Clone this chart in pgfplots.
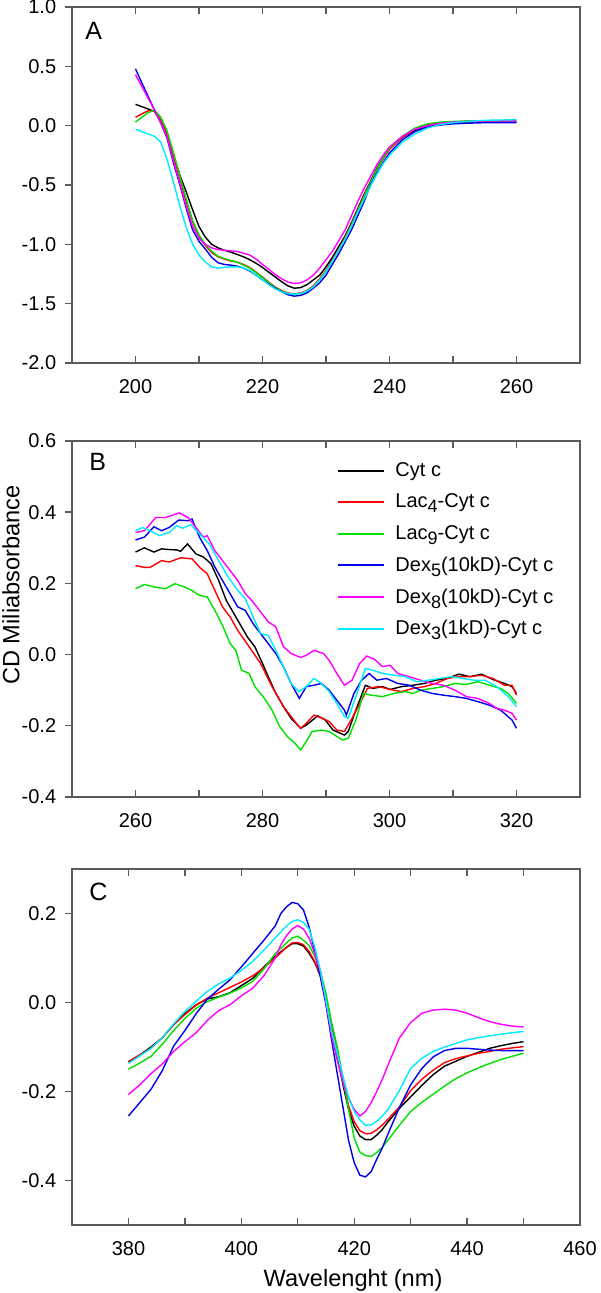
\documentclass[border=0pt]{standalone}
\usepackage{fontspec}
\setmainfont{Liberation Sans}
\usepackage{pgfplots}
\pgfplotsset{compat=1.18}
\definecolor{cR}{RGB}{255,0,0}
\definecolor{cG}{RGB}{0,225,0}
\definecolor{cB}{RGB}{0,0,235}
\definecolor{cM}{RGB}{255,0,255}
\definecolor{cC}{RGB}{0,235,255}
\definecolor{frame}{RGB}{90,90,90}
\pgfplotsset{
  panel/.style={
    width=254pt, height=178pt, scale only axis,
    anchor=south west,
    axis line style={frame, line width=0.7pt},
    tick style={frame, line width=0.7pt},
    tick align=inside,
    major tick length=3.5pt, minor tick length=3.5pt,
    xtick pos=both, ytick pos=left,
    ytick style={xshift=-3.5pt},
    ticklabel style={font=\fontsize{10}{12}\selectfont, text=black},
    xticklabel style={yshift=-4.7pt},
    yticklabel style={xshift=-4.4pt},
    every axis plot/.append style={line width=0.7pt, no markers},
  },
}
\newcommand{\sub}[1]{\raisebox{-2.5pt}{\fontsize{9}{9}\selectfont #1}}
\begin{document}
\begin{tikzpicture}
% ---------------- Panel A ----------------
\begin{axis}[panel, at={(36pt,465pt)},
  xmin=190, xmax=270, ymin=-2, ymax=1,
  xtick={200,220,240,260}, xticklabels={200,220,240,260}, minor xtick={210,230,250},
  ytick={-2,-1.5,-1,-0.5,0,0.5,1},
  yticklabels={-2.0,-1.5,-1.0,-0.5,0.0,0.5,1.0}]
\addplot[black] coordinates {(200,0.18)(201,0.16)(202,0.14)(203,0.12)(204,0.04)(205,-0.08)(206,-0.25)(207,-0.42)(208,-0.56)(209,-0.71)(210,-0.85)(211,-0.94)(212,-1.00)(213,-1.03)(214,-1.05)(215,-1.066)(216,-1.085)(217,-1.105)(218,-1.13)(219,-1.16)(220,-1.195)(221,-1.235)(222,-1.275)(223,-1.315)(224,-1.35)(225,-1.37)(226,-1.365)(227,-1.34)(228,-1.30)(229,-1.26)(230,-1.19)(231,-1.11)(232,-1.02)(233,-0.93)(234,-0.82)(235,-0.70)(236,-0.58)(237,-0.47)(238,-0.36)(239,-0.27)(240,-0.19)(242,-0.10)(244,-0.04)(246,0.0)(248,0.015)(250,0.025)(252,0.03)(255,0.035)(260,0.035)};
\addplot[cR] coordinates {(200,0.07)(201,0.10)(202,0.125)(203,0.125)(204,0.04)(205,-0.08)(206,-0.26)(207,-0.45)(208,-0.64)(209,-0.81)(210,-0.93)(211,-1.01)(212,-1.07)(213,-1.105)(214,-1.125)(215,-1.14)(216,-1.15)(217,-1.17)(218,-1.195)(219,-1.235)(220,-1.275)(221,-1.32)(222,-1.36)(223,-1.39)(224,-1.41)(225,-1.418)(226,-1.41)(227,-1.39)(228,-1.35)(229,-1.29)(230,-1.22)(231,-1.13)(232,-1.04)(233,-0.94)(234,-0.83)(235,-0.71)(236,-0.59)(237,-0.48)(238,-0.37)(239,-0.28)(240,-0.20)(242,-0.10)(244,-0.03)(246,0.01)(248,0.025)(250,0.03)(252,0.035)(255,0.035)(260,0.03)};
\addplot[cG] coordinates {(200,0.03)(201,0.07)(202,0.11)(203,0.13)(204,0.07)(205,-0.05)(206,-0.23)(207,-0.43)(208,-0.62)(209,-0.80)(210,-0.92)(211,-1.00)(212,-1.06)(213,-1.10)(214,-1.12)(215,-1.135)(216,-1.15)(217,-1.175)(218,-1.20)(219,-1.24)(220,-1.28)(221,-1.325)(222,-1.365)(223,-1.395)(224,-1.415)(225,-1.42)(226,-1.415)(227,-1.395)(228,-1.36)(229,-1.30)(230,-1.23)(231,-1.14)(232,-1.05)(233,-0.95)(234,-0.84)(235,-0.72)(236,-0.60)(237,-0.48)(238,-0.37)(239,-0.27)(240,-0.19)(242,-0.09)(244,-0.02)(246,0.015)(248,0.03)(250,0.035)(252,0.04)(255,0.04)(260,0.04)};
\addplot[cB] coordinates {(200,0.479)(201,0.36)(202,0.245)(203,0.13)(204,0.02)(205,-0.11)(206,-0.32)(207,-0.50)(208,-0.70)(209,-0.88)(210,-0.975)(211,-1.04)(212,-1.11)(213,-1.155)(214,-1.17)(215,-1.175)(216,-1.184)(217,-1.20)(218,-1.225)(219,-1.26)(220,-1.30)(221,-1.335)(222,-1.37)(223,-1.40)(224,-1.425)(225,-1.437)(226,-1.43)(227,-1.41)(228,-1.37)(229,-1.325)(230,-1.26)(231,-1.17)(232,-1.08)(233,-0.98)(234,-0.88)(235,-0.76)(236,-0.64)(237,-0.50)(238,-0.40)(239,-0.31)(240,-0.23)(242,-0.12)(244,-0.05)(246,-0.01)(248,0.005)(250,0.015)(252,0.02)(255,0.025)(260,0.025)};
\addplot[cM] coordinates {(200,0.43)(201,0.33)(202,0.23)(203,0.13)(204,0.02)(205,-0.10)(206,-0.30)(207,-0.49)(208,-0.68)(209,-0.85)(210,-0.95)(211,-1.00)(212,-1.03)(213,-1.045)(214,-1.05)(215,-1.055)(216,-1.06)(217,-1.075)(218,-1.09)(219,-1.125)(220,-1.17)(221,-1.21)(222,-1.255)(223,-1.29)(224,-1.318)(225,-1.33)(226,-1.325)(227,-1.30)(228,-1.26)(229,-1.20)(230,-1.13)(231,-1.06)(232,-0.97)(233,-0.88)(234,-0.76)(235,-0.64)(236,-0.53)(237,-0.43)(238,-0.33)(239,-0.25)(240,-0.18)(242,-0.09)(244,-0.03)(246,0.0)(248,0.02)(250,0.03)(252,0.035)(255,0.04)(260,0.04)};
\addplot[cC] coordinates {(200,-0.03)(201,-0.05)(202,-0.07)(203,-0.09)(204,-0.14)(205,-0.29)(206,-0.48)(207,-0.68)(208,-0.86)(209,-1.00)(210,-1.09)(211,-1.15)(212,-1.19)(213,-1.20)(214,-1.195)(215,-1.19)(216,-1.19)(217,-1.20)(218,-1.22)(219,-1.26)(220,-1.30)(221,-1.34)(222,-1.375)(223,-1.40)(224,-1.415)(225,-1.42)(226,-1.415)(227,-1.395)(228,-1.36)(229,-1.30)(230,-1.23)(231,-1.14)(232,-1.05)(233,-0.96)(234,-0.85)(235,-0.73)(236,-0.62)(237,-0.51)(238,-0.41)(239,-0.32)(240,-0.25)(242,-0.14)(244,-0.07)(246,-0.02)(248,0.01)(250,0.025)(252,0.035)(255,0.045)(260,0.05)};
\node[anchor=west, inner sep=0pt, font=\fontsize{12.5}{14}\selectfont] at (rel axis cs:0.0256,0.933) {A};
\end{axis}
% ---------------- Panel B ----------------
\begin{axis}[panel, at={(36pt,248pt)},
  xmin=250, xmax=330, ymin=-0.4, ymax=0.6,
  xtick={260,280,300,320}, xticklabels={260,280,300,320}, minor xtick={270,290,310},
  ytick={-0.4,-0.2,0,0.2,0.4,0.6},
  yticklabels={-0.4,-0.2,0.0,0.2,0.4,0.6},
  legend cell align=left,
  legend image code/.code={\draw[#1, line width=1pt] (0pt,0pt) -- (23pt,0pt);},
  legend style={at={(rel axis cs:0.51,0.963)}, anchor=north west, draw=none, fill=none,
    font=\fontsize{10}{16}\selectfont, row sep=3.2pt, column sep=3pt}]
\addplot[black] coordinates {(260,0.288)(261.4,0.300)(262.9,0.288)(264.1,0.297)(265.3,0.295)(266.5,0.294)(267.1,0.290)(268.2,0.311)(269.5,0.283)(270.7,0.274)(271.9,0.255)(273.1,0.208)(274.3,0.152)(275.5,0.115)(276.7,0.078)(277.6,0.050)(278.8,0.022)(280,-0.025)(280.9,-0.062)(282.1,-0.109)(283.3,-0.146)(284.5,-0.179)(286,-0.207)(286.9,-0.198)(288.7,-0.172)(289.9,-0.184)(291.1,-0.212)(292.9,-0.226)(293.5,-0.216)(294.7,-0.156)(296.2,-0.086)(297.4,-0.095)(298.9,-0.090)(300.1,-0.098)(301.9,-0.090)(303.7,-0.086)(305.5,-0.081)(307.3,-0.072)(309.1,-0.067)(310.9,-0.055)(312.7,-0.062)(314.5,-0.055)(316.3,-0.070)(318.1,-0.081)(319.3,-0.090)(320,-0.109)};
\addlegendentry{Cyt c\vphantom{\sub{4}}}
\addplot[cR] coordinates {(260,0.250)(261.4,0.245)(262.3,0.245)(264.1,0.264)(265.3,0.260)(267.1,0.272)(268.9,0.269)(270.1,0.245)(271.3,0.227)(272.5,0.180)(273.7,0.134)(274.9,0.106)(276.1,0.068)(277.9,0.022)(279.7,-0.025)(281.5,-0.090)(283.3,-0.146)(285.1,-0.188)(286,-0.207)(286.9,-0.193)(288.1,-0.170)(289.6,-0.180)(290.5,-0.188)(291.7,-0.212)(292.9,-0.216)(294.1,-0.179)(295.9,-0.118)(296.5,-0.095)(298.3,-0.090)(300.1,-0.098)(301.9,-0.104)(303.7,-0.095)(305.5,-0.090)(307.3,-0.081)(309.1,-0.067)(310.9,-0.062)(312.7,-0.062)(314.5,-0.058)(316.3,-0.067)(318.1,-0.086)(319.3,-0.086)(320,-0.114)};
\addlegendentry{Lac\sub{4}-Cyt c}
\addplot[cG] coordinates {(260,0.185)(261.4,0.197)(262.9,0.190)(264.7,0.185)(266.2,0.199)(267.7,0.190)(268.9,0.180)(270.1,0.166)(271.3,0.162)(272.5,0.124)(273.7,0.082)(274.9,0.031)(275.8,0.012)(276.7,-0.044)(277.9,-0.053)(278.8,-0.090)(280.3,-0.123)(281.5,-0.156)(282.7,-0.202)(283.9,-0.230)(285.1,-0.249)(286,-0.268)(286.9,-0.244)(287.8,-0.216)(289.3,-0.212)(290.5,-0.216)(291.7,-0.230)(292.6,-0.240)(293.5,-0.235)(294.7,-0.184)(295.9,-0.109)(297.1,-0.114)(298.9,-0.118)(300.7,-0.109)(302.5,-0.104)(303.7,-0.109)(304.9,-0.100)(306.7,-0.095)(308.5,-0.090)(310.3,-0.081)(312.1,-0.084)(313.9,-0.076)(315.7,-0.086)(317.5,-0.095)(318.7,-0.109)(320,-0.137)};
\addlegendentry{Lac\sub{9}-Cyt c}
\addplot[cB] coordinates {(260,0.322)(261.4,0.330)(262.9,0.359)(264.1,0.348)(265.3,0.357)(266.8,0.378)(268.3,0.376)(268.9,0.381)(270.1,0.329)(271.3,0.292)(272.5,0.246)(273.7,0.208)(274.9,0.171)(276.1,0.134)(277.3,0.124)(278.5,0.087)(279.7,0.059)(280.9,0.031)(282.1,0.003)(283.3,-0.034)(284.5,-0.081)(285.8,-0.123)(286.9,-0.090)(288.1,-0.086)(289.3,-0.081)(290.5,-0.100)(291.7,-0.128)(292.9,-0.156)(293.2,-0.170)(294.4,-0.109)(295.6,-0.072)(296.8,-0.053)(298,-0.072)(299.5,-0.067)(301.3,-0.081)(303.1,-0.086)(304.9,-0.100)(306.7,-0.109)(308.5,-0.114)(310.3,-0.118)(312.1,-0.123)(313.9,-0.132)(315.7,-0.142)(317.5,-0.156)(319.3,-0.184)(320,-0.207)};
\addlegendentry{Dex\sub{5}(10kD)-Cyt c}
\addplot[cM] coordinates {(260,0.343)(261.4,0.348)(263.2,0.385)(264.7,0.385)(265.6,0.390)(266.9,0.398)(268.3,0.385)(269.5,0.357)(270.7,0.330)(271.3,0.334)(272.5,0.292)(273.7,0.264)(274.9,0.236)(276.1,0.208)(277.3,0.171)(278.5,0.148)(279.7,0.120)(280.9,0.092)(282.1,0.078)(283.3,0.022)(284.5,0.003)(286,-0.008)(286.9,-0.002)(288.1,0.012)(289.6,0.003)(290.5,-0.016)(291.7,-0.053)(292.9,-0.086)(294.1,-0.072)(295.3,-0.025)(296.4,-0.004)(297.7,-0.014)(298.9,-0.034)(300.1,-0.030)(301.3,-0.053)(303.1,-0.062)(304.9,-0.072)(306.7,-0.081)(308.5,-0.086)(310.3,-0.100)(312.1,-0.118)(313.9,-0.123)(315.7,-0.137)(316.9,-0.151)(318.1,-0.156)(319.3,-0.165)(320,-0.184)};
\addlegendentry{Dex\sub{8}(10kD)-Cyt c}
\addplot[cC] coordinates {(260,0.348)(261.1,0.357)(262.3,0.348)(263.8,0.334)(265.3,0.343)(266.5,0.362)(267.4,0.355)(268.7,0.365)(270.1,0.339)(271.6,0.311)(273.1,0.264)(274.6,0.218)(276.1,0.180)(277.3,0.157)(278.5,0.106)(279.7,0.059)(280.9,0.054)(282.1,0.012)(283.3,-0.034)(284.5,-0.081)(285.7,-0.104)(286.9,-0.090)(288.1,-0.067)(289.3,-0.081)(290.5,-0.104)(291.7,-0.137)(292.9,-0.174)(293.5,-0.179)(294.7,-0.118)(296.2,-0.039)(297.4,-0.044)(298.9,-0.053)(300.7,-0.058)(302.5,-0.062)(304.3,-0.076)(306.1,-0.072)(307.9,-0.067)(309.7,-0.062)(311.5,-0.067)(313.3,-0.072)(315.1,-0.072)(316.9,-0.090)(318.7,-0.118)(320,-0.146)};
\addlegendentry{Dex\sub{3}(1kD)-Cyt c}
\node[anchor=west, inner sep=0pt, font=\fontsize{12.5}{14}\selectfont] at (rel axis cs:0.0335,0.941) {B};
\end{axis}
% ---------------- Panel C ----------------
\begin{axis}[panel, at={(36pt,34pt)},
  xmin=370, xmax=460, ymin=-0.5, ymax=0.3,
  xtick={380,400,420,440,460}, xticklabels={380,400,420,440,460}, minor xtick={390,410,430,450},
  ytick={-0.4,-0.2,0,0.2},
  yticklabels={-0.4,-0.2,0.0,0.2}]
\addplot[black] coordinates {(380,-0.133)(382,-0.118)(384,-0.100)(386,-0.079)(388,-0.050)(390,-0.025)(392,-0.005)(394,0.008)(396,0.013)(398,0.022)(400,0.038)(402,0.054)(404,0.080)(406,0.104)(408,0.124)(409,0.132)(410,0.132)(411,0.127)(412,0.111)(413,0.090)(414,0.060)(415,0.005)(416,-0.055)(417,-0.12)(418,-0.185)(419,-0.24)(420,-0.278)(421,-0.300)(422,-0.308)(423,-0.308)(424,-0.298)(425,-0.285)(426,-0.268)(428,-0.238)(430,-0.212)(432,-0.186)(434,-0.162)(436,-0.143)(438,-0.132)(440,-0.121)(442,-0.112)(444,-0.103)(446,-0.097)(448,-0.092)(450,-0.088)};
\addplot[cR] coordinates {(380,-0.133)(382,-0.118)(384,-0.103)(386,-0.079)(388,-0.050)(390,-0.027)(392,-0.006)(394,0.010)(396,0.022)(398,0.034)(400,0.046)(402,0.060)(404,0.078)(406,0.100)(408,0.124)(409,0.134)(410,0.135)(411,0.130)(412,0.115)(413,0.092)(414,0.060)(415,0.005)(416,-0.052)(417,-0.115)(418,-0.178)(419,-0.232)(420,-0.268)(421,-0.288)(422,-0.295)(423,-0.294)(424,-0.286)(425,-0.275)(426,-0.262)(428,-0.235)(430,-0.198)(432,-0.172)(434,-0.152)(436,-0.135)(438,-0.126)(440,-0.120)(442,-0.114)(444,-0.110)(446,-0.105)(448,-0.102)(450,-0.099)};
\addplot[cG] coordinates {(380,-0.150)(382,-0.136)(384,-0.121)(386,-0.094)(388,-0.063)(390,-0.036)(392,-0.013)(394,0.002)(396,0.012)(398,0.021)(400,0.033)(402,0.047)(404,0.075)(406,0.110)(408,0.134)(409,0.145)(410,0.149)(411,0.140)(412,0.128)(413,0.104)(414,0.072)(415,0.020)(416,-0.045)(417,-0.100)(418,-0.170)(419,-0.240)(420,-0.305)(421,-0.336)(422,-0.344)(423,-0.346)(424,-0.337)(425,-0.325)(426,-0.309)(428,-0.276)(430,-0.245)(432,-0.224)(434,-0.206)(436,-0.188)(438,-0.171)(440,-0.158)(442,-0.147)(444,-0.137)(446,-0.128)(448,-0.121)(450,-0.114)};
\addplot[cB] coordinates {(380,-0.255)(382,-0.225)(384,-0.195)(386,-0.153)(388,-0.098)(390,-0.063)(392,-0.025)(394,0.008)(396,0.030)(398,0.051)(400,0.080)(402,0.110)(404,0.140)(406,0.172)(407,0.200)(408,0.215)(409,0.225)(410,0.222)(411,0.208)(412,0.170)(413,0.115)(414,0.058)(415,-0.005)(416,-0.085)(417,-0.160)(418,-0.235)(419,-0.310)(420,-0.360)(421,-0.388)(422,-0.392)(423,-0.380)(424,-0.352)(425,-0.326)(426,-0.295)(428,-0.236)(430,-0.185)(432,-0.148)(434,-0.122)(436,-0.108)(438,-0.103)(440,-0.103)(442,-0.105)(444,-0.107)(446,-0.108)(448,-0.108)(450,-0.108)};
\addplot[cM] coordinates {(380,-0.207)(382,-0.185)(384,-0.160)(386,-0.138)(388,-0.110)(390,-0.088)(392,-0.068)(394,-0.040)(396,-0.018)(398,-0.005)(400,0.015)(402,0.032)(404,0.060)(406,0.100)(407,0.130)(408,0.150)(409,0.165)(410,0.173)(411,0.165)(412,0.145)(413,0.110)(414,0.070)(415,0.000)(416,-0.075)(417,-0.130)(418,-0.180)(419,-0.215)(420,-0.240)(421,-0.255)(422,-0.245)(423,-0.225)(424,-0.200)(425,-0.172)(426,-0.140)(428,-0.080)(430,-0.045)(432,-0.024)(434,-0.017)(436,-0.015)(438,-0.017)(440,-0.024)(442,-0.034)(444,-0.043)(446,-0.049)(448,-0.053)(450,-0.055)};
\addplot[cC] coordinates {(380,-0.137)(382,-0.120)(384,-0.103)(386,-0.079)(388,-0.048)(390,-0.020)(392,0.003)(394,0.025)(396,0.042)(398,0.055)(400,0.072)(402,0.092)(404,0.118)(406,0.145)(408,0.172)(409,0.182)(410,0.186)(411,0.180)(412,0.165)(413,0.125)(414,0.072)(415,0.005)(416,-0.065)(417,-0.115)(418,-0.165)(419,-0.213)(420,-0.245)(421,-0.264)(422,-0.276)(423,-0.275)(424,-0.267)(425,-0.255)(426,-0.240)(428,-0.198)(430,-0.148)(432,-0.125)(434,-0.110)(436,-0.100)(438,-0.092)(440,-0.084)(442,-0.079)(444,-0.075)(446,-0.071)(448,-0.068)(450,-0.065)};
\node[anchor=west, inner sep=0pt, font=\fontsize{12.5}{14}\selectfont] at (rel axis cs:0.0335,0.935) {C};
\end{axis}
\node[rotate=90, inner sep=0pt, font=\fontsize{11.8}{14}\selectfont] at (5.5pt,354pt) {CD Miliabsorbance};
\node[anchor=base, inner sep=0pt, font=\fontsize{11.8}{14}\selectfont] at (176.5pt,3pt) {Wavelenght (nm)};
\pgfresetboundingbox
\path[use as bounding box] (0pt,0pt) rectangle (300pt,646.5pt);
\end{tikzpicture}
\end{document}
